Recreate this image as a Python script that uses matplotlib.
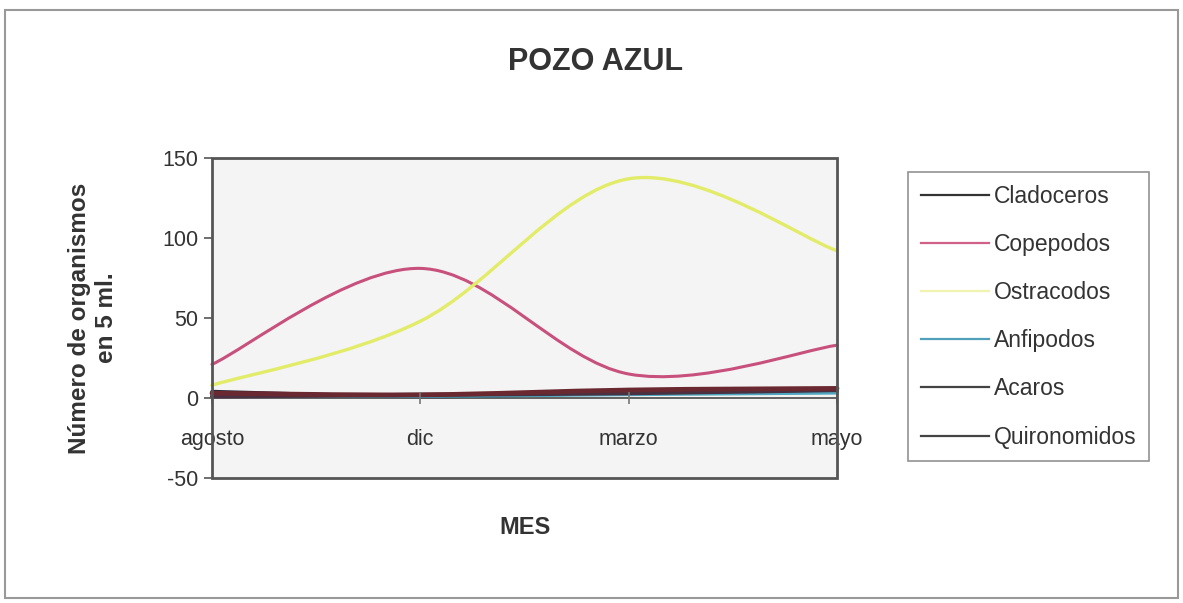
import matplotlib
matplotlib.use('Agg')
import matplotlib.pyplot as plt
from matplotlib.path import Path
from matplotlib.patches import PathPatch, Rectangle
from matplotlib.lines import Line2D

plt.rcParams['font.family'] = ['Liberation Sans', 'DejaVu Sans']
plt.rcParams['axes.unicode_minus'] = False

meses = ['agosto', 'dic', 'marzo', 'mayo']
series = ['Cladoceros', 'Copepodos', 'Ostracodos', 'Anfipodos', 'Acaros', 'Quironomidos']
cladoceros = [4, 1, 3, 4]
copepodos = [21, 81, 15, 33]
ostracodos = [8, 48, 137, 92]
anfipodos = [2, 1, 2, 3]
acaros = [1, 2, 3, 5]
quironomidos = [3, 2, 5, 6]
valores = [cladoceros, copepodos, ostracodos, anfipodos, acaros, quironomidos]

colores = ['#2a2a38', '#c8507c', '#e2ec68', '#4fa8c0', '#4a3040', '#6a2830']
colores_ley = ['#333333', '#d06088', '#f0f4b0', '#4fa0b8', '#444444', '#444444']
grosor = [2.6, 2.2, 2.4, 2.0, 3.0, 3.4]


def suave(xs, ys):
    # excel-like smoothed line: cubic bezier through the points
    pts = list(zip(xs, ys))
    n = len(pts)
    verts = [pts[0]]
    codes = [Path.MOVETO]
    for i in range(n - 1):
        p0 = pts[max(i - 1, 0)]
        p1 = pts[i]
        p2 = pts[i + 1]
        p3 = pts[min(i + 2, n - 1)]
        c1 = (p1[0] + (p2[0] - p0[0]) / 6, p1[1] + (p2[1] - p0[1]) / 6)
        c2 = (p2[0] - (p3[0] - p1[0]) / 6, p2[1] - (p3[1] - p1[1]) / 6)
        verts += [c1, c2, p2]
        codes += [Path.CURVE4] * 3
    return Path(verts, codes)


fig = plt.figure(figsize=(11.83, 6.03), dpi=100)
fig.patch.set_facecolor('white')
ax = fig.add_axes([212 / 1183, 1 - 478 / 603, 625 / 1183, 320 / 603])
ax.set_facecolor('#f4f4f4')

x = list(range(len(meses)))
for nombre, ys, c, lw in zip(series, valores, colores, grosor):
    ax.add_patch(PathPatch(suave(x, ys), fill=False, edgecolor=c, linewidth=lw,
                           capstyle='round', joinstyle='round', clip_on=False))

ax.set_xlim(0, 3)
ax.set_ylim(-50, 150)
ax.set_yticks([-50, 0, 50, 100, 150])
ax.set_xticks(x)
ax.set_xticklabels(meses)

for s in ['top', 'right', 'left']:
    ax.spines[s].set_visible(False)
ax.spines['bottom'].set_position(('data', 0))
ax.spines['bottom'].set_color('#555555')
ax.spines['bottom'].set_linewidth(1.3)
ax.spines['bottom'].set_zorder(0.5)
ax.add_patch(Rectangle((0, 0), 1, 1, transform=ax.transAxes, fill=False,
                       edgecolor='#555555', linewidth=2.0, clip_on=False, zorder=5))

ax.tick_params(axis='y', direction='out', length=6, width=1.2, color='#555555',
               labelsize=15.5, labelcolor='#333333', pad=4)
ax.tick_params(axis='x', direction='inout', length=9, width=1.2, color='#777777',
               labelsize=15.5, labelcolor='#333333', pad=18)

fig.text(596 / 1183, 1 - 62 / 603, 'POZO AZUL', ha='center', va='center',
         fontsize=22, fontweight='bold', color='#333333')
fig.text(525 / 1183, 1 - 528 / 603, 'MES', ha='center', va='center',
         fontsize=17, fontweight='bold', color='#333333')
fig.text(93 / 1183, 1 - 318 / 603, 'Número de organismos\nen 5 ml.', ha='center',
         va='center', rotation=90, fontsize=17.5, fontweight='bold', color='#333333',
         linespacing=1.2)

handles = [Line2D([0], [0], color=c, linewidth=1.6) for c in colores_ley]
leg = fig.legend(handles, series, loc='upper left',
                 bbox_to_anchor=(908 / 1183, 1 - 172 / 603),
                 fontsize=16.5, frameon=True, fancybox=False, shadow=False,
                 handlelength=3.0, handletextpad=0.2, labelspacing=1.1,
                 borderpad=0.55, borderaxespad=0)
leg.get_frame().set_edgecolor('#777777')
leg.get_frame().set_linewidth(1.2)
for t in leg.get_texts():
    t.set_color('#333333')

fig.add_artist(Rectangle((5 / 1183, 1 - 598 / 603), 1173 / 1183, 588 / 603,
                         transform=fig.transFigure, fill=False,
                         edgecolor='#999999', linewidth=1.5))

fig.savefig('out.png', dpi=100)
